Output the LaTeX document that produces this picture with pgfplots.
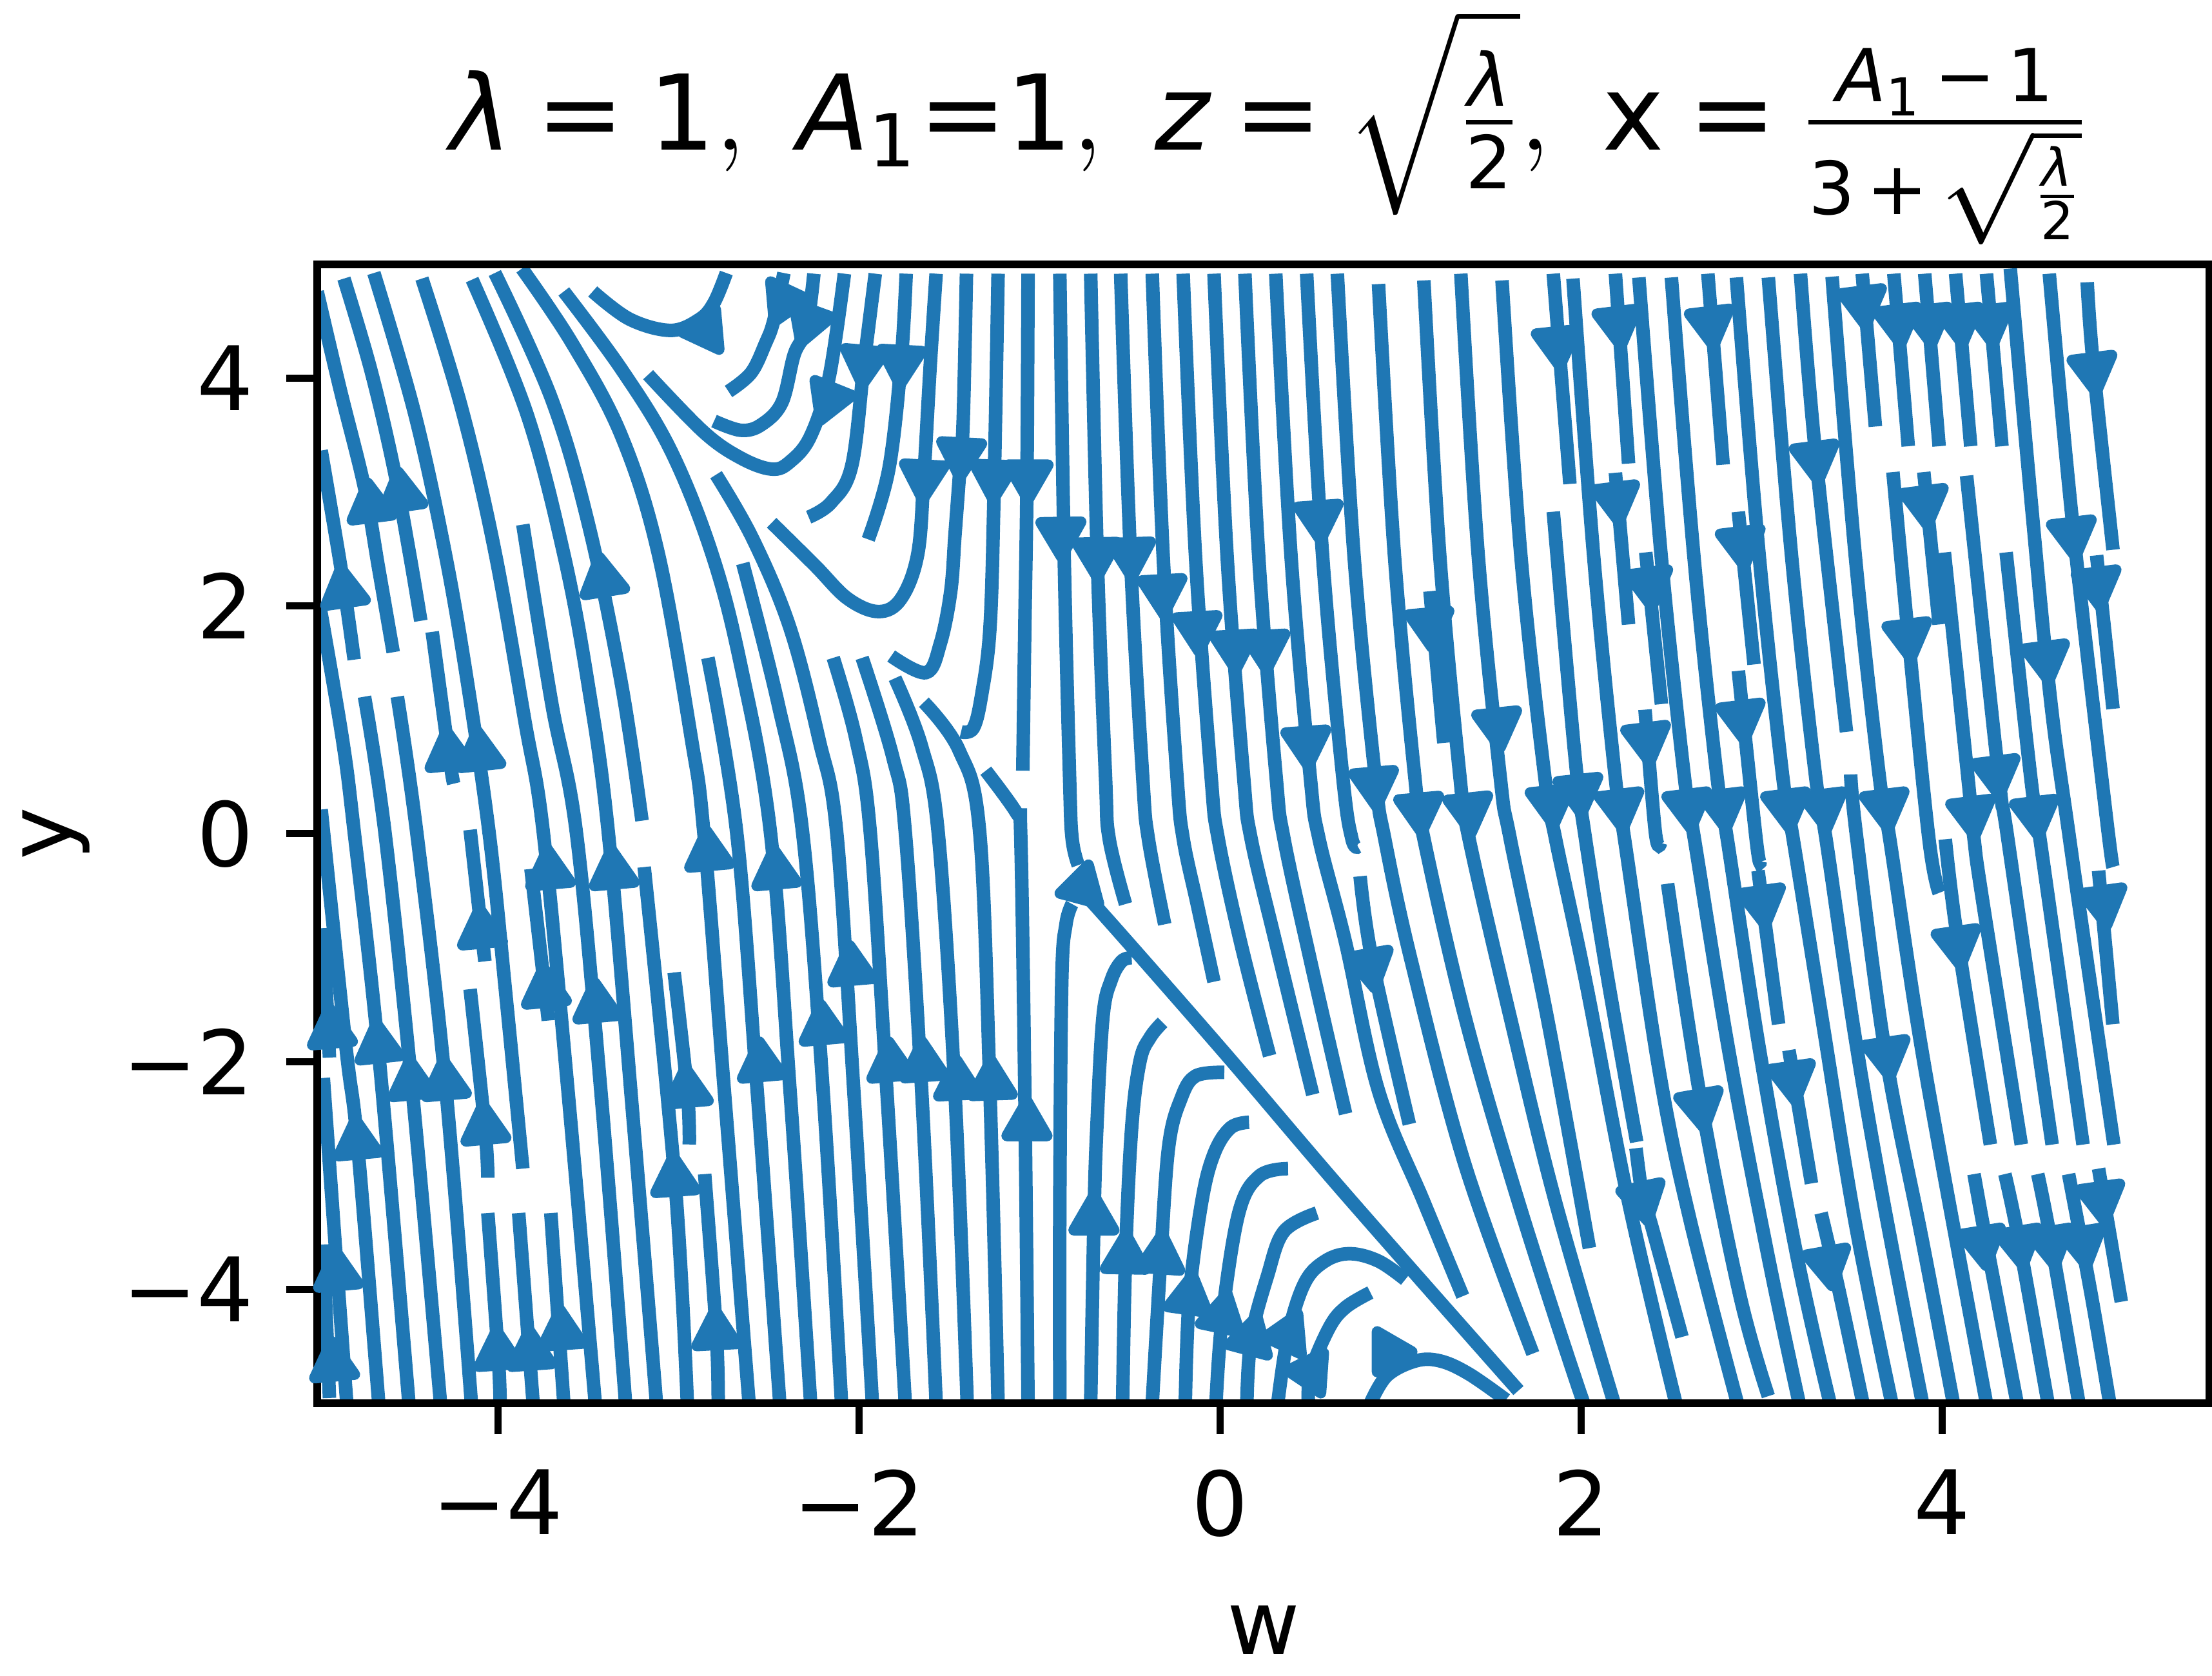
\documentclass[border=0pt]{standalone}
\usepackage{fontspec}
\usepackage{amsmath}
\usepackage{pgfplots}
\pgfplotsset{compat=1.18}
\setmainfont{DejaVu Sans}
\definecolor{sc}{HTML}{1F77B4}
\newcommand{\mi}[1]{\text{\itshape #1}}
\begin{document}
\begin{tikzpicture}
\path[use as bounding box] (-49.2pt,-42.3pt) rectangle (293.9pt,217.6pt);
\begin{axis}[
    scale only axis, width=293.5pt, height=176.6pt,
    xmin=-5, xmax=5.48, ymin=-5, ymax=5,
    xtick={-4,-2,0,2,4}, xticklabels={−4,−2,0,2,4},
    ytick={-4,-2,0,2,4}, yticklabels={−4,−2,0,2,4},
    tick align=outside, major tick length=4.8pt,
    xtick pos=lower, ytick pos=left,
    tick style={black, line width=1.1pt},
    axis line style={line width=1.15pt},
    axis on top,
    tick label style={font=\fontsize{13.8}{16}\selectfont},
    xticklabel style={yshift=-2pt},
    yticklabel style={xshift=-1.5pt},
    xlabel={w}, ylabel={y},
    label style={font=\fontsize{13.8}{16}\selectfont},
    xlabel style={at={(axis description cs:0.5,-0.199)}, anchor=center},
    ylabel style={at={(axis description cs:-0.138,0.5)}, anchor=center},
    title style={font=\fontsize{16.2}{19}\selectfont, at={(0.5,1)}, anchor=south, yshift=-6.5pt, xshift=1pt},
    title={$\mi{λ}\:\text{=}\:\text{1},\ \mi{A}_{\text{1}}\text{=}\text{1},\ \mi{z}\:\text{=}\:\sqrt{\frac{\mi{λ}}{\text{2}}},\ \text{x}\:\text{=}\:\frac{\mi{A}_{\text{1}}\,\text{−}\,\text{1}}{\text{3}\,\text{+}\,\sqrt{\frac{\mi{λ}}{\text{2}}}}$},
    sl/.style={sc, line width=2.1pt, no marks, smooth, tension=0.6},
]
% left side, upward flow
\addplot[sl] coordinates {(-5.00,4.76) (-4.875,3.917) (-4.738,3.04) (-4.659,2.325) (-4.579,1.594)};
\addplot[sl] coordinates {(-4.852,4.875) (-4.704,4.079) (-4.579,3.235) (-4.488,2.455) (-4.426,1.87)};
\addplot[sl] coordinates {(-4.686,4.924) (-4.46,3.69) (-4.29,2.455) (-4.165,1.3) (-4.044,-0.04) (-3.953,-1.445) (-3.861,-2.94)};
\addplot[sl] coordinates {(-4.42,4.875) (-4.203,3.754) (-4.021,2.52) (-3.85,0.993) (-3.748,0.017) (-3.611,-2.257) (-3.46,-5)};
\addplot[sl] coordinates {(-4.142,4.866) (-3.839,3.69) (-3.634,2.455) (-3.5,1.318) (-3.388,0.017) (-3.246,-2.582) (-3.121,-5)};
\addplot[sl] coordinates {(-4.016,4.924) (-3.702,3.819) (-3.497,2.715) (-3.315,1.318) (-3.201,0.115)};
\addplot[sl] coordinates {(-3.866,4.963) (-3.588,4.307) (-3.315,3.494) (-3.11,2.455) (-2.927,0.83) (-2.859,0.017) (-2.745,-2.257) (-2.608,-5)};
\addplot[sl] coordinates {(-3.634,4.762) (-3.315,4.079) (-3.041,3.364) (-2.813,2.455) (-2.654,1.48) (-2.49,0.017) (-2.381,-2.257) (-2.267,-5)};
\addplot[sl] coordinates {(-2.791,3.153) (-2.586,2.585) (-2.381,1.805) (-2.221,0.83) (-2.123,0.017) (-2.028,-2.257) (-1.925,-5)};
\addplot[sl] coordinates {(-3.861,2.715) (-3.702,1.155) (-3.565,0.017) (-3.429,-2.257) (-3.292,-5)};
\addplot[sl] coordinates {(-2.836,1.545) (-2.677,0.017) (-2.563,-2.257) (-2.438,-5)};
\addplot[sl] coordinates {(-2.643,2.374) (-2.449,1.155) (-2.312,0.017) (-2.198,-2.257) (-2.096,-5)};
\addplot[sl] coordinates {(-2.142,1.545) (-2.016,0.83) (-1.937,0.017) (-1.845,-2.257) (-1.743,-5)};
\addplot[sl] coordinates {(-1.982,1.545) (-1.811,0.668) (-1.743,0.017) (-1.652,-2.257) (-1.572,-5)};
\addplot[sl] coordinates {(-1.8,1.366) (-1.652,0.765) (-1.56,0) (-1.468,-2.257) (-1.40,-5)};
\addplot[sl] coordinates {(-1.64,1.155) (-1.445,0.733) (-1.331,0.017) (-1.274,-2.257) (-1.229,-5)};
\addplot[sl] coordinates {(-1.297,0.554) (-1.126,0.181) (-1.104,0.017) (-1.081,-2.257) (-1.063,-5)};
% left edge
\addplot[sl] coordinates {(-4.978,3.365) (-4.864,2.292) (-4.795,1.529)};
\addplot[sl] coordinates {(-4.989,2.032) (-4.86,0.83) (-4.795,0.017) (-4.659,-1.932) (-4.492,-5)};
\addplot[sl] coordinates {(-4.738,1.204) (-4.625,0.017) (-4.477,-2.192) (-4.317,-5)};
\addplot[sl] coordinates {(-4.556,1.204) (-4.449,0.017) (-4.29,-2.192) (-4.146,-5)};
\addplot[sl] coordinates {(-4.363,1.773) (-4.271,0.7) (-4.244,0.44)};
\addplot[sl] coordinates {(-4.153,0.035) (-4.09,-0.86) (-4.071,-1.12)};
\addplot[sl] coordinates {(-4.153,-1.364) (-4.071,-2.582) (-4.055,-3.02)};
\addplot[sl] coordinates {(-4.978,0.213) (-4.841,-1.867) (-4.777,-2.712) (-4.659,-5)};
\addplot[sl] coordinates {(-4.966,-0.828) (-4.932,-1.965)};
\addplot[sl] coordinates {(-4.966,-2.144) (-4.898,-3.654) (-4.836,-5)};
\addplot[sl] coordinates {(-4.966,-3.606) (-4.932,-4.954)};
\addplot[sl] coordinates {(-4.055,-3.33) (-3.998,-4.564) (-3.987,-5)};
\addplot[sl] coordinates {(-3.884,-3.33) (-3.804,-5)};
\addplot[sl] coordinates {(-3.706,-3.33) (-3.634,-5)};
\addplot[sl] coordinates {(-3.816,-0.308) (-3.736,-1.413) (-3.72,-1.64)};
\addplot[sl] coordinates {(-3.189,-0.292) (-3.019,-3.037) (-2.95,-5)};
\addplot[sl] coordinates {(-3.023,-1.218) (-2.95,-2.257) (-2.939,-2.728)};
\addplot[sl] coordinates {(-2.854,-2.988) (-2.79,-4.369) (-2.779,-5)};
% top, hooks
\addplot[sl] coordinates {(-1.572,4.918) (-1.606,4.079) (-1.64,3.137) (-1.674,2.455) (-1.766,2.065) (-1.891,1.951) (-2.062,2.065) (-2.244,2.357) (-2.483,2.731)};
\addplot[sl] coordinates {(-1.738,4.918) (-1.766,4.144) (-1.834,3.202) (-1.948,2.585)};
\addplot[sl] coordinates {(-1.909,4.918) (-1.97,4.144) (-2.039,3.235) (-2.153,2.91) (-2.278,2.78)};
\addplot[sl] coordinates {(-2.08,4.918) (-2.164,4.014) (-2.267,3.494) (-2.381,3.267) (-2.483,3.202) (-2.654,3.3) (-2.859,3.527) (-3.167,4.031)};
\addplot[sl] coordinates {(-2.249,4.918) (-2.29,4.437) (-2.358,4.209) (-2.426,3.787) (-2.54,3.592) (-2.654,3.543) (-2.802,3.624)};
\addplot[sl] coordinates {(-2.415,4.924) (-2.472,4.502) (-2.517,4.307) (-2.597,4.047) (-2.722,3.884)};
\addplot[sl] coordinates {(-2.734,4.924) (-2.802,4.664) (-2.882,4.518) (-3.041,4.42) (-3.269,4.518) (-3.474,4.762)};
\addplot[sl] coordinates {(-1.404,4.918) (-1.423,3.592) (-1.445,3.105) (-1.468,2.617) (-1.491,2.13) (-1.548,1.675) (-1.628,1.415) (-1.821,1.561)};
\addplot[sl] coordinates {(-1.229,4.918) (-1.252,2.942) (-1.274,1.805) (-1.32,1.22) (-1.366,0.928) (-1.434,0.895)};
\addplot[sl] coordinates {(-1.063,4.918) (-1.069,3.105) (-1.081,1.805) (-1.092,0.554)};
% downward flow ending at the diagonal
\addplot[sl] coordinates {(-0.887,4.918) (-0.863,2.45) (-0.833,0.5) (-0.819,-0.04) (-0.785,-0.275)};
\addplot[sl] coordinates {(-0.716,4.918) (-0.68,2.45) (-0.634,0.5) (-0.614,-0.04) (-0.523,-0.617)};
\addplot[sl] coordinates {(-0.55,4.918) (-0.496,2.45) (-0.428,0.5) (-0.397,-0.04) (-0.306,-0.795)};
\addplot[sl] coordinates {(-0.375,4.918) (-0.315,2.45) (-0.238,0.5) (-0.204,-0.04) (-0.124,-0.633) (-0.033,-1.299)};
\addplot[sl] coordinates {(-0.204,4.918) (-0.136,2.45) (-0.049,0.5) (-0.01,-0.04) (0.115,-0.958) (0.275,-1.949)};
\addplot[sl] coordinates {(-0.033,4.918) (0.039,2.45) (0.131,0.5) (0.172,-0.04) (0.309,-0.958) (0.514,-2.29)};
\addplot[sl] coordinates {(0.138,4.918) (0.214,2.45) (0.311,0.5) (0.354,-0.04) (0.502,-1.12) (0.696,-2.459)};
\addplot[sl] coordinates {(0.309,4.918) (0.393,2.45) (0.5,0.5) (0.548,-0.04) (0.696,-0.958) (0.878,-2.257) (1.129,-3.232) (1.345,-4.06)};
\addplot[sl] coordinates {(0.48,4.918) (0.568,2.45) (0.68,0.5) (0.73,-0.04) (0.764,-0.113)};
\addplot[sl] coordinates {(0.776,-0.373) (0.844,-1.12) (1.049,-2.55)};
\addplot[sl] coordinates {(0.65,4.918) (0.742,2.45) (0.86,0.5) (0.912,-0.04) (1.06,-1.12) (1.357,-2.907) (1.733,-4.564)};
\addplot[sl] coordinates {(0.878,4.827) (0.966,2.45) (1.079,0.5) (1.129,-0.04) (1.357,-1.608) (1.653,-3.232) (1.99,-4.889) (2.03,-5)};
\addplot[sl] coordinates {(1.163,2.13) (1.24,0.798)};
\addplot[sl] coordinates {(1.129,4.859) (1.217,2.45) (1.329,0.5) (1.379,-0.04) (1.607,-1.608) (1.858,-3.232) (2.183,-5)};
\addplot[sl] coordinates {(1.334,4.918) (1.43,2.45) (1.552,0.5) (1.607,-0.04) (1.812,-1.608) (2.046,-3.638)};
\addplot[sl] coordinates {(1.562,4.859) (1.666,2.45) (1.799,0.5) (1.858,-0.04) (2.024,-1.283) (2.263,-3.232) (2.525,-5)};
\addplot[sl] coordinates {(1.846,4.918) (1.938,3.072)};
\addplot[sl] coordinates {(1.846,2.828) (1.965,0.7) (2.024,-0.04) (2.149,-1.283) (2.308,-2.706)};
\addplot[sl] coordinates {(2.304,-2.761) (2.342,-3.2) (2.388,-3.427) (2.559,-4.418)};
\addplot[sl] coordinates {(1.955,4.875) (2.069,2.45) (2.189,0.5) (2.24,-0.04) (2.434,-2.095) (2.604,-3.394) (2.866,-5)};
\addplot[sl] coordinates {(2.19,4.918) (2.263,3.251)};
\addplot[sl] coordinates {(2.19,3.17) (2.263,1.838)};
\addplot[sl] coordinates {(2.32,4.885) (2.443,2.45) (2.572,0.5) (2.627,-0.04) (2.821,-1.932) (3.037,-3.719) (3.208,-5)};
\addplot[sl] coordinates {(2.358,2.471) (2.445,1.139)};
\addplot[sl] coordinates {(2.354,1.09) (2.411,0.017) (2.44,-0.08)};
\addplot[sl] coordinates {(2.479,-0.438) (2.661,-2.322) (2.878,-4.044) (3.037,-4.938)};
\addplot[sl] coordinates {(2.5,4.885) (2.624,2.45) (2.753,0.5) (2.809,-0.04) (2.992,-1.932) (3.197,-3.719) (3.379,-5)};
\addplot[sl] coordinates {(2.702,4.918) (2.787,3.241)};
\addplot[sl] coordinates {(2.871,2.828) (2.958,1.487)};
\addplot[sl] coordinates {(2.871,1.431) (2.969,-0.04) (2.992,-0.243)};
\addplot[sl] coordinates {(2.98,-0.324) (3.094,-1.672)};
\addplot[sl] coordinates {(3.151,-1.9) (3.276,-3.07)};
\addplot[sl] coordinates {(2.86,4.885) (2.986,2.45) (3.117,0.5) (3.174,-0.04) (3.333,-1.608) (3.516,-3.394) (3.721,-5)};
\addplot[sl] coordinates {(3.329,-3.33) (3.424,-3.979) (3.561,-5)};
\addplot[sl] coordinates {(3.037,4.885) (3.165,2.45) (3.299,0.5) (3.356,-0.04) (3.516,-1.77) (3.675,-3.232) (3.891,-5)};
\addplot[sl] coordinates {(3.215,4.918) (3.299,3.332) (3.47,0.895)};
\addplot[sl] coordinates {(3.39,4.892) (3.518,2.45) (3.652,0.5) (3.709,-0.04) (3.857,-1.608) (4.0,-2.907) (4.245,-5)};
\addplot[sl] coordinates {(3.493,0.521) (3.527,-0.04) (3.686,-1.932) (3.888,-3.557) (4.062,-5)};
\addplot[sl] coordinates {(3.557,4.918) (3.63,3.576)};
\addplot[sl] coordinates {(3.732,4.918) (3.812,3.403)};
\addplot[sl] coordinates {(3.903,4.918) (3.983,3.403)};
\addplot[sl] coordinates {(4.074,4.918) (4.158,3.403)};
\addplot[sl] coordinates {(4.245,4.918) (4.331,3.403)};
\addplot[sl] coordinates {(3.727,3.176) (3.812,1.74) (3.926,-0.04) (3.983,-0.519)};
\addplot[sl] coordinates {(3.898,3.176) (3.983,1.838)};
\addplot[sl] coordinates {(4.012,2.47) (4.142,0.5) (4.176,-0.04) (4.222,-0.568) (4.438,-2.729)};
\addplot[sl] coordinates {(4.017,-0.048) (4.085,-0.925) (4.267,-2.729)};
\addplot[sl] coordinates {(4.135,3.144) (4.313,0.505) (4.363,-0.04) (4.609,-2.729)};
\addplot[sl] coordinates {(4.354,2.471) (4.49,0.5) (4.541,-0.04) (4.78,-2.729)};
\addplot[sl] coordinates {(4.377,4.963) (4.575,1.545) (4.705,-0.04) (4.951,-2.729)};
\addplot[sl] coordinates {(4.593,4.918) (4.723,2.715) (4.905,0.2) (4.946,-0.292)};
\addplot[sl] coordinates {(4.803,4.843) (4.837,4.112) (4.946,2.494)};
\addplot[sl] coordinates {(4.855,2.445) (4.946,1.097)};
\addplot[sl] coordinates {(4.866,-0.324) (4.945,-1.672)};
\addplot[sl] coordinates {(4.866,-2.94) (4.992,-4.109)};
\addplot[sl] coordinates {(4.7,-2.988) (4.825,-4.044) (4.928,-5)};
\addplot[sl] coordinates {(4.529,-2.988) (4.604,-3.59) (4.757,-5)};
\addplot[sl] coordinates {(4.347,-2.988) (4.427,-3.59) (4.586,-5)};
\addplot[sl] coordinates {(4.176,-2.988) (4.245,-3.59) (4.415,-5)};
% diagonal and the arcs below it
\addplot[sl] coordinates {(1.653,-4.889) (0.696,-3.167) (0.013,-1.9) (-0.671,-0.665) (-0.76,-0.53)};
\addplot[sl] coordinates {(-0.887,-5) (-0.887,-3.232) (-0.876,-1.283) (-0.853,-0.795) (-0.819,-0.617)};
\addplot[sl] coordinates {(-0.716,-5) (-0.698,-3.394) (-0.682,-2.582) (-0.648,-1.608) (-0.602,-1.283) (-0.545,-1.12) (-0.489,-1.088)};
\addplot[sl] coordinates {(-0.539,-5) (-0.523,-3.719) (-0.489,-2.582) (-0.443,-1.997) (-0.386,-1.786) (-0.318,-1.656)};
\addplot[sl] coordinates {(-0.375,-5) (-0.329,-3.752) (-0.284,-2.745) (-0.215,-2.322) (-0.135,-2.127) (0.024,-2.095)};
\addplot[sl] coordinates {(-0.192,-5) (-0.17,-4.077) (-0.101,-3.232) (-0.033,-2.81) (0.058,-2.582) (0.161,-2.533)};
\addplot[sl] coordinates {(-0.022,-5) (0.013,-4.239) (0.104,-3.33) (0.218,-3.005) (0.377,-2.94)};
\addplot[sl] coordinates {(0.149,-5) (0.172,-4.434) (0.263,-3.882) (0.354,-3.492) (0.537,-3.33)};
\addplot[sl] coordinates {(0.32,-5) (0.377,-4.402) (0.468,-3.947) (0.582,-3.752) (0.719,-3.687) (0.878,-3.752) (1.026,-3.914)};
\addplot[sl] coordinates {(0.49,-5) (0.502,-4.727) (0.605,-4.337) (0.696,-4.158) (0.833,-4.028)};
\addplot[sl] coordinates {(0.833,-5) (0.924,-4.759) (1.083,-4.629) (1.22,-4.629) (1.379,-4.743) (1.584,-4.97)};
% arrowheads: position and rotation
\addplot[scatter, only marks, mark=triangle*, mark size=3.6pt,
    visualization depends on={\thisrow{a}\as\ang},
    scatter/@pre marker code/.code={\pgfscope\pgftransformrotate{\ang}\pgfsetstrokecolor{sc}\pgfsetfillcolor{sc}\pgfsetlinewidth{1.7pt}\pgfsetroundjoin},
    scatter/@post marker code/.code={\endpgfscope}]
table {
x y a
-4.704 2.877 7
-4.533 2.975 8
-4.852 2.13 8
-3.417 2.227 9
-4.271 0.7 6
-4.1 0.7 6
-4.09 -0.86 5
-3.713 -0.34 5
-3.36 -0.34 5
-2.832 -0.178 5
-2.46 -0.34 5
-2.039 -1.185 5
-3.736 -1.38 5
-3.451 -1.51 5
-2.198 -1.705 5
-4.659 -1.867 6
-4.921 -1.737 5
-4.476 -2.192 5
-4.29 -2.192 5
-2.54 -2.03 5
-1.823 -2.03 5
-1.64 -2.03 4
-1.451 -2.192 3
-2.95 -2.257 5
-4.777 -2.712 5
-4.071 -2.582 5
-3.019 -3.037 4
-4.887 -3.866 5
-3.998 -4.564 4
-3.816 -4.564 4
-3.645 -4.385 4
-2.79 -4.385 3
-4.909 -4.661 5
-1.263 -2.192 2
-1.069 -2.55 0
-0.698 -3.378 0
-0.523 -3.719 -1
-0.329 -3.719 -4
-0.17 -4.077 -8
0.013 -4.239 -12
0.172 -4.434 -15
0.377 -4.402 -25
0.502 -4.727 -34
0.935 -4.548 -90
-0.762 -0.47 105
-1.434 3.332 177
-1.252 3.137 178
-1.063 3.137 180
-0.88 2.634 181
-0.682 2.455 181
-0.493 2.455 182
-0.318 2.13 183
-0.124 1.805 183
0.081 1.643 183
0.252 1.643 183
0.48 0.798 184
0.548 2.78 184
0.856 0.44 185
1.106 0.213 185
1.379 0.213 186
1.539 0.96 186
1.163 1.838 185
1.835 0.278 186
1.869 4.307 186
1.989 0.376 186
-2.415 4.68 155
-2.278 4.502 160
-2.164 3.82 158
-1.97 4.144 175
-1.766 4.144 177
-1.64 3.137 177
-2.848 4.42 95
2.206 4.485 187
2.718 4.485 187
2.194 2.942 187
2.889 2.552 187
2.377 2.195 187
2.365 0.83 187
2.889 1.025 187
3.299 3.3 187
3.561 4.664 187
3.755 4.502 187
3.926 4.502 187
4.097 4.502 187
4.267 4.502 187
3.903 2.91 187
3.812 1.74 187
4.301 0.538 187
4.575 1.545 187
4.723 2.634 187
4.837 4.079 187
4.86 2.195 187
2.217 0.246 187
2.593 0.246 187
2.787 0.246 187
3.14 0.246 187
3.345 0.246 187
3.686 0.246 187
4.165 0.181 187
4.518 0.181 187
3.003 -0.6 188
4.085 -0.958 188
4.894 -0.6 188
3.169 -2.144 188
3.693 -1.932 188
2.661 -2.387 190
2.342 -3.2 192
3.367 -3.768 190
4.882 -3.2 188
4.222 -3.59 189
4.427 -3.59 189
4.604 -3.59 189
4.78 -3.59 189
0.833 -1.153 190
};
\end{axis}
\end{tikzpicture}
\end{document}
